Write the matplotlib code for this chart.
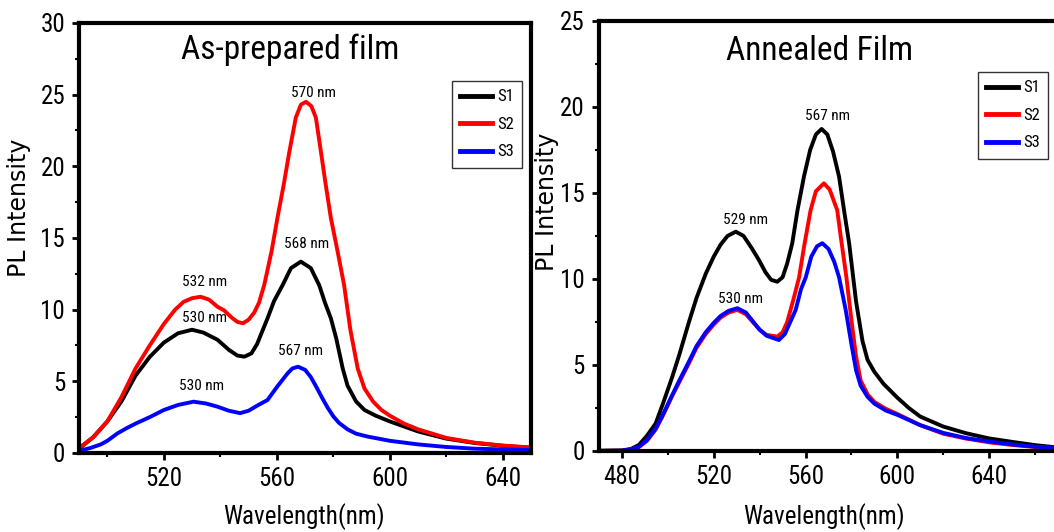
import matplotlib
matplotlib.use("Agg")
import matplotlib.pyplot as plt
from matplotlib.ticker import MultipleLocator

plt.rcParams["font.family"] = ["Roboto Condensed", "DejaVu Sans"]

# ---- As-prepared film ----
wl_a_s1 = [490, 495, 500, 505, 510, 515, 520, 525, 530, 534, 539, 543, 546, 548.5, 551, 553,
           556.7, 559, 562, 565, 568.5, 572, 575, 577, 579.1, 581, 583.3, 585, 588, 591, 595,
           600, 610, 620, 630, 640, 650]
pl_a_s1 = [0.3, 1.1, 2.2, 3.6, 5.4, 6.7, 7.7, 8.35, 8.6, 8.4, 7.9, 7.2, 6.8, 6.72, 6.95, 7.6,
           9.4, 10.6, 11.7, 12.9, 13.35, 12.9, 11.7, 10.5, 9.4, 8.0, 5.9, 4.7, 3.6, 3.0, 2.6,
           2.2, 1.5, 1.0, 0.7, 0.5, 0.37]

wl_a_s2 = [490, 495, 500, 505, 510, 515, 520, 524, 527, 530, 533, 536, 539, 541.3, 544, 546,
           548, 550, 552, 553.7, 555.5, 558.1, 560.2, 562.4, 564.4, 566.7, 568.5, 570.3, 572.2,
           573.8, 575.6, 577.3, 579.1, 581.5, 583.8, 586, 588.6, 591, 594, 597, 600, 605, 610,
           620, 630, 640, 650]
pl_a_s2 = [0.35, 1.1, 2.2, 3.9, 5.9, 7.5, 9.0, 10.0, 10.55, 10.8, 10.9, 10.7, 10.2, 9.95, 9.45, 9.15,
           9.05, 9.3, 9.8, 10.5, 11.7, 14.05, 16.4, 18.7, 21.0, 23.4, 24.3, 24.5, 24.2,
           23.4, 21.0, 18.7, 16.4, 14.05, 11.7, 8.6, 5.9, 4.5, 3.6, 3.0, 2.6, 2.05, 1.65,
           1.05, 0.72, 0.52, 0.38]

wl_a_s3 = [490, 494, 497.7, 500, 503.6, 507, 510, 515, 520, 525, 530.5, 535, 539, 543, 547, 550,
           553, 556.7, 560, 563.8, 565.5, 567.5, 570, 572, 574, 576, 578, 580, 582, 585, 588,
           592, 600, 610, 620, 630, 640, 650]
pl_a_s3 = [0.15, 0.35, 0.6, 0.85, 1.37, 1.75, 2.05, 2.5, 3.0, 3.35, 3.58, 3.45, 3.23, 2.95, 2.78, 2.95,
           3.3, 3.7, 4.6, 5.56, 5.9, 6.02, 5.8, 5.3, 4.6, 3.85, 3.15, 2.55, 2.1, 1.65, 1.35,
           1.15, 0.85, 0.6, 0.42, 0.3, 0.25, 0.2]

# ---- Annealed film ----
wl_b_s1 = [470, 480, 484, 487.4, 491, 494.7, 498, 501.9, 505, 509.2, 512.5, 516.5, 520, 523, 526,
           529.6, 533, 536.5, 539.7, 542.5, 545, 547.7, 550, 552, 554.2, 556.5, 559.3, 562, 564.5,
           567, 569.5, 572, 574.6, 577, 579, 582, 584.8, 587, 590, 594, 600, 605, 610, 620, 630,
           640, 650, 660, 670]
pl_b_s1 = [0.02, 0.03, 0.12, 0.35, 0.9, 1.6, 2.8, 4.3, 5.6, 7.5, 8.9, 10.3, 11.3, 12.0, 12.5,
           12.75, 12.5, 11.8, 11.1, 10.4, 9.95, 9.84, 10.1, 10.9, 12.07, 14.0, 15.95, 17.5, 18.4,
           18.72, 18.4, 17.4, 15.95, 13.8, 12.07, 8.7, 6.4, 5.3, 4.6, 3.9, 3.1, 2.5, 2.0, 1.42, 1.03,
           0.73, 0.53, 0.34, 0.2]

wl_b_s2 = [470, 480, 484, 487.4, 491, 494.7, 498, 501.9, 505, 509.2, 512.5, 516.5, 520, 523, 526.5,
           530.3, 534, 537, 540, 543, 547.7, 550, 552, 554.5, 557.2, 559.5, 562.2, 564.5, 568,
           570.5, 573.8, 575.5, 577.8, 580, 582, 584, 587, 590, 595, 600, 610, 620, 630, 640,
           650, 660, 670]
pl_b_s2 = [0.0, 0.02, 0.08, 0.22, 0.6, 1.25, 2.1, 3.2, 4.0, 5.1, 6.0, 6.8, 7.35, 7.75, 8.05,
           8.2, 7.95, 7.5, 7.05, 6.75, 6.65, 6.9, 7.5, 8.7, 10.1, 12.0, 14.0, 15.1, 15.56,
           15.2, 14.0, 12.3, 10.1, 7.6, 5.5, 4.1, 3.3, 2.85, 2.45, 2.15, 1.5, 1.0, 0.72, 0.5,
           0.35, 0.23, 0.15]

wl_b_s3 = [470, 480, 484, 487.4, 491, 494.7, 498, 501.9, 505, 509.2, 512.5, 516.5, 520, 523, 526.5,
           530.3, 534, 537, 540, 543, 548.4, 551, 553, 555.7, 558, 560.1, 562.5, 565, 567.3,
           570, 572.5, 574.6, 577.5, 580, 582, 584, 587, 590, 595, 600, 610, 620, 630, 640,
           650, 660, 670]
pl_b_s3 = [0.0, 0.02, 0.09, 0.25, 0.65, 1.3, 2.15, 3.25, 4.1, 5.2, 6.1, 6.9, 7.45, 7.85, 8.15,
           8.3, 8.05, 7.55, 7.05, 6.7, 6.45, 6.8, 7.4, 8.2, 9.4, 10.1, 11.3, 11.9, 12.08,
           11.75, 11.0, 10.1, 8.2, 6.2, 4.7, 3.8, 3.15, 2.75, 2.35, 2.1, 1.5, 1.05, 0.75, 0.55,
           0.38, 0.25, 0.17]

labels = ["S1", "S2", "S3"]
colors = ["black", "#ff0000", "#0000ff"]

# peak notes: (text, x, y)
notes_a = [("570 nm", 573.0, 25.1), ("568 nm", 570.4, 14.6), ("532 nm", 534.4, 11.9),
           ("530 nm", 534.4, 9.45), ("567 nm", 568.5, 7.15), ("530 nm", 533.4, 4.7)]
notes_b = [("567 nm", 569.6, 19.5), ("529 nm", 533.9, 13.45), ("530 nm", 531.6, 8.85)]


def style_axes(ax):
    for sp in ax.spines.values():
        sp.set_linewidth(3)
    ax.tick_params(which="major", direction="out", length=5, width=2, labelsize=18, pad=5)
    ax.tick_params(which="minor", direction="out", length=3, width=1.5)
    ax.tick_params(axis="x", which="both", top=False)
    ax.xaxis.set_major_locator(MultipleLocator(40))
    ax.xaxis.set_minor_locator(MultipleLocator(20))
    ax.yaxis.set_major_locator(MultipleLocator(5))
    ax.yaxis.set_minor_locator(MultipleLocator(2.5))


fig = plt.figure(figsize=(10.54, 5.32), dpi=100)
ax1 = fig.add_axes([0.075, 0.1485, 0.429, 0.8083])
ax2 = fig.add_axes([0.5683, 0.1523, 0.4355, 0.8083])

for wl, pl, lab, c in zip([wl_a_s1, wl_a_s2, wl_a_s3], [pl_a_s1, pl_a_s2, pl_a_s3], labels, colors):
    ax1.plot(wl, pl, color=c, lw=2.8, label=lab, solid_joinstyle="round")
for wl, pl, lab, c in zip([wl_b_s1, wl_b_s2, wl_b_s3], [pl_b_s1, pl_b_s2, pl_b_s3], labels, colors):
    ax2.plot(wl, pl, color=c, lw=2.8, label=lab, solid_joinstyle="round")

ax1.set_xlim(490, 650)
ax1.set_ylim(0, 30)
ax2.set_xlim(470, 670)
ax2.set_ylim(0, 25)

for ax in (ax1, ax2):
    style_axes(ax)
    ax.set_xlabel("Wavelength(nm)", fontsize=18)
    ax.set_ylabel("PL Intensity", fontsize=17, family=["DejaVu Sans"])
    ax.xaxis.label.set_va("center")
    ax.yaxis.label.set_va("center")

ax1.xaxis.set_label_coords(0.498, -0.149)
ax2.xaxis.set_label_coords(0.49, -0.153)
ax1.yaxis.set_label_coords(-0.133, 0.57)
ax2.yaxis.set_label_coords(-0.113, 0.58)

ax1.text(0.468, 0.917, "As-prepared film", transform=ax1.transAxes, fontsize=24,
         ha="center", va="baseline")
ax2.text(0.48, 0.909, "Annealed Film", transform=ax2.transAxes, fontsize=24,
         ha="center", va="baseline")

for txt, x, y in notes_a:
    ax1.text(x, y, txt, fontsize=11, ha="center", va="center")
for txt, x, y in notes_b:
    ax2.text(x, y, txt, fontsize=11, ha="center", va="center")

leg_kw = dict(loc="upper right", fontsize=12, frameon=True, fancybox=False,
              edgecolor="black", handlelength=1.9, handletextpad=0.3,
              labelspacing=0.75, borderpad=0.5, borderaxespad=0)
lg1 = ax1.legend(bbox_to_anchor=(0.98, 0.865), **leg_kw)
lg2 = ax2.legend(bbox_to_anchor=(0.978, 0.881), **leg_kw)
for lg in (lg1, lg2):
    lg.get_frame().set_linewidth(1.0)
    for h in lg.get_lines():
        h.set_linewidth(3.5)

fig.savefig("out.png", dpi=100)
